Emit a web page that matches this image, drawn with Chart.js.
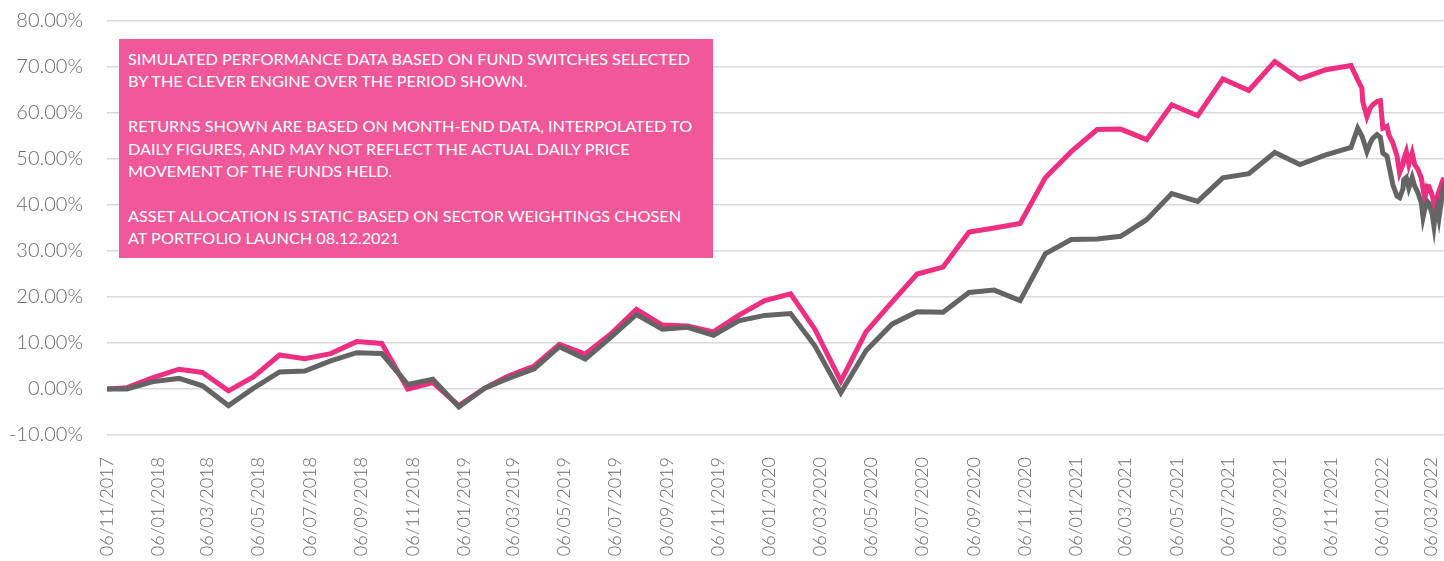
<!DOCTYPE html>
<html>
<head>
<meta charset="utf-8">
<script src="https://cdn.jsdelivr.net/npm/chart.js@4"></script>
<style>
  html, body { margin: 0; padding: 0; background: #fff; }
  #wrap { position: relative; width: 1444px; height: 561px; }
  #note {
    position: absolute; left: 119px; top: 39px; width: 594px; height: 219px;
    box-sizing: border-box; padding: 9px 0 0 9px;
    background: #f0589a; color: #fff;
    font-family: Lato, sans-serif; font-size: 16.25px; line-height: 22.4px;
  }
  #note p { margin: 0 0 22.4px 0; }
</style>
</head>
<body>
<div id="wrap">
  <canvas id="myChart" width="1444" height="561"></canvas>
  <div id="note">
    <p>SIMULATED PERFORMANCE DATA BASED ON FUND SWITCHES SELECTED<br>BY THE CLEVER ENGINE OVER THE PERIOD SHOWN.</p>
    <p>RETURNS SHOWN ARE BASED ON MONTH-END DATA, INTERPOLATED TO<br>DAILY FIGURES, AND MAY NOT REFLECT THE ACTUAL DAILY PRICE<br>MOVEMENT OF THE FUNDS HELD.</p>
    <p>ASSET ALLOCATION IS STATIC BASED ON SECTOR WEIGHTINGS CHOSEN<br>AT PORTFOLIO LAUNCH 08.12.2021</p>
  </div>
</div>
<script>
// month-end points up to Nov 2021, then daily-ish points
const dates = [
  "2017-11-06","2017-11-30","2017-12-31",
  "2018-01-31","2018-02-28","2018-03-31","2018-04-30","2018-05-31","2018-06-30",
  "2018-07-31","2018-08-31","2018-09-30","2018-10-31","2018-11-30","2018-12-31",
  "2019-01-31","2019-02-28","2019-03-31","2019-04-30","2019-05-31","2019-06-30",
  "2019-07-31","2019-08-31","2019-09-30","2019-10-31","2019-11-30","2019-12-31",
  "2020-01-31","2020-02-29","2020-03-31","2020-04-30","2020-05-31","2020-06-30",
  "2020-07-31","2020-08-31","2020-09-30","2020-10-31","2020-11-30","2020-12-31",
  "2021-01-31","2021-02-28","2021-03-31","2021-04-30","2021-05-31","2021-06-30",
  "2021-07-31","2021-08-31","2021-09-30","2021-10-31","2021-11-30",
  "2021-12-08","2021-12-13","2021-12-14","2021-12-19","2021-12-23","2021-12-26","2021-12-31",
  "2022-01-04","2022-01-07","2022-01-12","2022-01-14","2022-01-19","2022-01-24","2022-01-27","2022-01-31",
  "2022-02-01","2022-02-04","2022-02-07","2022-02-11","2022-02-14","2022-02-18","2022-02-22","2022-02-24","2022-02-26",
  "2022-03-01","2022-03-03","2022-03-07","2022-03-09","2022-03-10","2022-03-13","2022-03-15","2022-03-19","2022-03-21"
];

const portfolio = [
  0, 0.3, 2.5,
  4.3, 3.6, -0.4, 2.7, 7.4, 6.6, 7.7, 10.3, 9.9, 0.0, 1.4, -3.6,
  0.2, 2.8, 5.0, 9.7, 7.6, 11.9, 17.3, 13.9, 13.7, 12.4, 16.0, 19.2,
  20.7, 13.0, 1.7, 12.4, 18.9, 25.0, 26.5, 34.1, 35.0, 36.0, 45.9, 51.6,
  56.4, 56.5, 54.2, 61.8, 59.4, 67.4, 64.9, 71.2, 67.4, 69.4, 70.3,
  67.2, 65.4, 62.5, 59.2, 61.1, 61.8, 62.5,
  62.7, 56.7, 57.1, 55.3, 53.5, 50.6, 47.0, 48.8,
  50.0, 51.6, 48.8, 51.3, 48.8, 47.7, 45.8, 43.5, 41.4,
  44.1, 44.0, 42.0, 40.3, 39.0, 41.8, 43.0, 45.1, 45.9
];

const sector = [
  0, 0.0, 1.6,
  2.3, 0.7, -3.6, 0.2, 3.7, 3.9, 6.1, 7.9, 7.7, 1.0, 2.1, -3.9,
  0.2, 2.3, 4.4, 9.2, 6.5, 11.2, 16.2, 13.0, 13.4, 11.7, 14.8, 16.0,
  16.4, 9.4, -0.8, 8.3, 14.1, 16.8, 16.7, 21.0, 21.5, 19.2, 29.4, 32.5,
  32.6, 33.2, 36.8, 42.5, 40.8, 45.9, 46.8, 51.4, 48.8, 50.9, 52.5,
  56.7, 55.0, 54.5, 51.6, 53.5, 54.5, 55.3,
  54.7, 51.3, 50.6, 48.8, 44.4, 41.9, 41.6, 43.5,
  45.5, 46.0, 43.7, 46.0, 44.1, 42.6, 40.4, 37.3, 39.0,
  40.8, 40.4, 37.9, 35.4, 37.0, 39.4, 37.2, 42.3, 44.8
];

const tickLabels = [
  "06/11/2017","06/01/2018","06/03/2018","06/05/2018","06/07/2018","06/09/2018",
  "06/11/2018","06/01/2019","06/03/2019","06/05/2019","06/07/2019","06/09/2019",
  "06/11/2019","06/01/2020","06/03/2020","06/05/2020","06/07/2020","06/09/2020",
  "06/11/2020","06/01/2021","06/03/2021","06/05/2021","06/07/2021","06/09/2021",
  "06/11/2021","06/01/2022","06/03/2022"
];

const start = Date.UTC(2017, 10, 6);
function dayOf(y, m, d) { return (Date.UTC(y, m - 1, d) - start) / 86400000; }
function isoDay(s) { const p = s.split("-").map(Number); return dayOf(p[0], p[1], p[2]); }
function ukDay(s) { const p = s.split("/").map(Number); return dayOf(p[2], p[1], p[0]); }

const tickDays = tickLabels.map(ukDay);
const labelFor = {};
tickDays.forEach((d, i) => { labelFor[d] = tickLabels[i]; });

const toPoints = arr => arr.map((v, i) => ({ x: isoDay(dates[i]), y: v }));

new Chart(document.getElementById("myChart"), {
  type: "line",
  data: {
    datasets: [
      { label: "Sector", data: toPoints(sector), borderColor: "#646464", borderWidth: 5,
        pointRadius: 0, tension: 0, order: 1 },
      { label: "Portfolio", data: toPoints(portfolio), borderColor: "#ee2e80", borderWidth: 5,
        pointRadius: 0, tension: 0, order: 2 }
    ]
  },
  options: {
    responsive: false,
    animation: false,
    layout: { padding: { top: 21, right: 0, left: 0, bottom: 0 } },
    plugins: { legend: { display: false }, tooltip: { enabled: false } },
    scales: {
      x: {
        type: "linear",
        min: 0,
        max: isoDay(dates[dates.length - 1]),
        afterBuildTicks: s => { s.ticks = tickDays.map(v => ({ value: v })); },
        afterFit: s => { s.height = 126; s.paddingLeft = 0; s.paddingRight = 0; },
        grid: { display: false },
        border: { display: false },
        ticks: {
          autoSkip: false, maxRotation: 90, minRotation: 90, padding: 14,
          color: "#6a6a6a", font: { family: "Lato", size: 18, weight: "300" },
          callback: v => labelFor[v] || ""
        }
      },
      y: {
        min: -10, max: 80,
        afterFit: s => { s.width = 107; s.paddingTop = 0; s.paddingBottom = 0; },
        grid: { color: "#d9d9d9", lineWidth: 1.5, drawTicks: false },
        border: { display: false },
        ticks: {
          stepSize: 10, padding: 24, color: "#6a6a6a", font: { family: "Lato", size: 20, weight: "300" },
          callback: v => v.toFixed(2) + "%"
        }
      }
    }
  }
});
</script>
</body>
</html>
